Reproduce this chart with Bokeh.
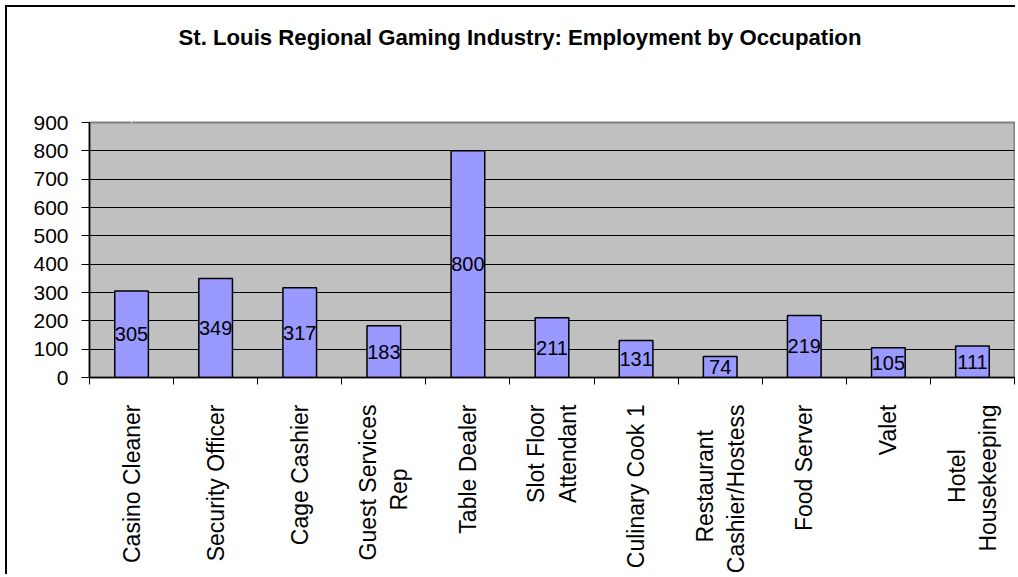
import math
import numpy as np
from bokeh.plotting import figure
from bokeh.models import (Range1d, LinearAxis, FixedTicker, ColumnDataSource, Title)
from bokeh.core.properties import value
from bokeh.embed import file_html
from bokeh.resources import INLINE

NB = "\u00a0"
title = "St. Louis Regional Gaming Industry: Employment by Occupation"
categories = ["Casino Cleaner", "Security Officer", "Cage Cashier",
              "Guest Services Rep", "Table Dealer", "Slot Floor Attendant",
              "Culinary Cook 1", "Restaurant Cashier/Hostess", "Food Server",
              "Valet", "Hotel Housekeeping"]
category_labels = ["Casino Cleaner", "Security Officer", "Cage Cashier",
                   "Guest Services\nRep" + NB * 10, "Table Dealer",
                   "Slot Floor\nAttendant", "Culinary Cook 1",
                   "Restaurant" + NB * 4 + "\nCashier/Hostess", "Food Server",
                   "Valet", "Hotel" + NB * 7 + "\nHousekeeping"]
employment = [305, 349, 317, 183, 800, 211, 131, 74, 219, 105, 111]
y_ticks = [0, 100, 200, 300, 400, 500, 600, 700, 800, 900]

FONT = "Liberation Sans"
n = len(categories)
xs = np.arange(n) + 0.5
bounds = list(range(n + 1))

src = ColumnDataSource(dict(
    x=xs, top=employment, mid=[v / 2 for v in employment],
    label=[str(v) for v in employment], name=categories))

p = figure(width=1010, height=569, output_backend="svg", toolbar_location=None,
           x_range=Range1d(0, n), y_range=Range1d(0, 900),
           x_axis_location=None, y_axis_location=None,
           min_border_left=82, min_border_right=3, min_border_top=115,
           min_border_bottom=197)
p.styles = {"border-left": "2px solid black", "border-top": "2px solid black",
            "margin-left": "5px", "margin-top": "5px"}

p.background_fill_color = "#C0C0C0"
p.border_fill_color = "white"
p.outline_line_color = "#808080"
p.outline_line_width = 2

# y axis
yax = LinearAxis(ticker=FixedTicker(ticks=y_ticks))
yax.major_tick_out = 8
yax.major_tick_in = 0
yax.minor_tick_line_color = None
yax.axis_line_color = "black"
yax.axis_line_width = 1.5
yax.major_tick_line_color = "black"
yax.major_label_text_font = FONT
yax.major_label_text_font_size = "21px"
yax.major_label_text_color = "black"
yax.major_label_standoff = 13
p.add_layout(yax, "left")

# x axis: category labels at centres, boundary ticks as minor ticks
xax = LinearAxis(ticker=FixedTicker(ticks=list(xs), minor_ticks=bounds))
xax.major_label_overrides = {float(x): lab for x, lab in zip(xs, category_labels)}
xax.major_tick_line_color = None
xax.major_tick_out = 0
xax.major_tick_in = 0
xax.minor_tick_line_color = "black"
xax.minor_tick_out = 7
xax.minor_tick_in = 0
xax.axis_line_color = "black"
xax.axis_line_width = 1.5
xax.major_label_orientation = math.pi / 2
xax.major_label_text_font = FONT
xax.major_label_text_font_size = "23px"
xax.major_label_text_color = "black"
xax.major_label_standoff = 20
p.add_layout(xax, "below")

# empty space between plot area and title (closest to the frame), then title
spacer = LinearAxis(ticker=FixedTicker(ticks=[0.5]))
spacer.axis_line_color = None
spacer.major_tick_line_color = "white"
spacer.minor_tick_line_color = None
spacer.major_tick_out = 68
spacer.major_tick_in = 0
spacer.major_label_standoff = 0
spacer.major_label_text_color = None
p.add_layout(spacer, "above")

p.add_layout(Title(text=title, align="left", offset=89, text_font=FONT,
                   text_font_size="22.2px", text_font_style="bold",
                   text_color="black", standoff=10), "above")

p.xgrid.visible = False
p.ygrid.ticker = FixedTicker(ticks=y_ticks)
p.ygrid.grid_line_color = "black"
p.ygrid.grid_line_width = 1

p.vbar(x="x", top="top", width=0.4, bottom=0, source=src,
       fill_color="#9999FF", line_color="black", line_width=1.5)

p.text(x="x", y="mid", text="label", source=src, text_font=value(FONT),
       text_font_size="20px", text_align="center", text_baseline="middle",
       text_color="black")

open("out.html", "w").write(file_html(p, INLINE))
